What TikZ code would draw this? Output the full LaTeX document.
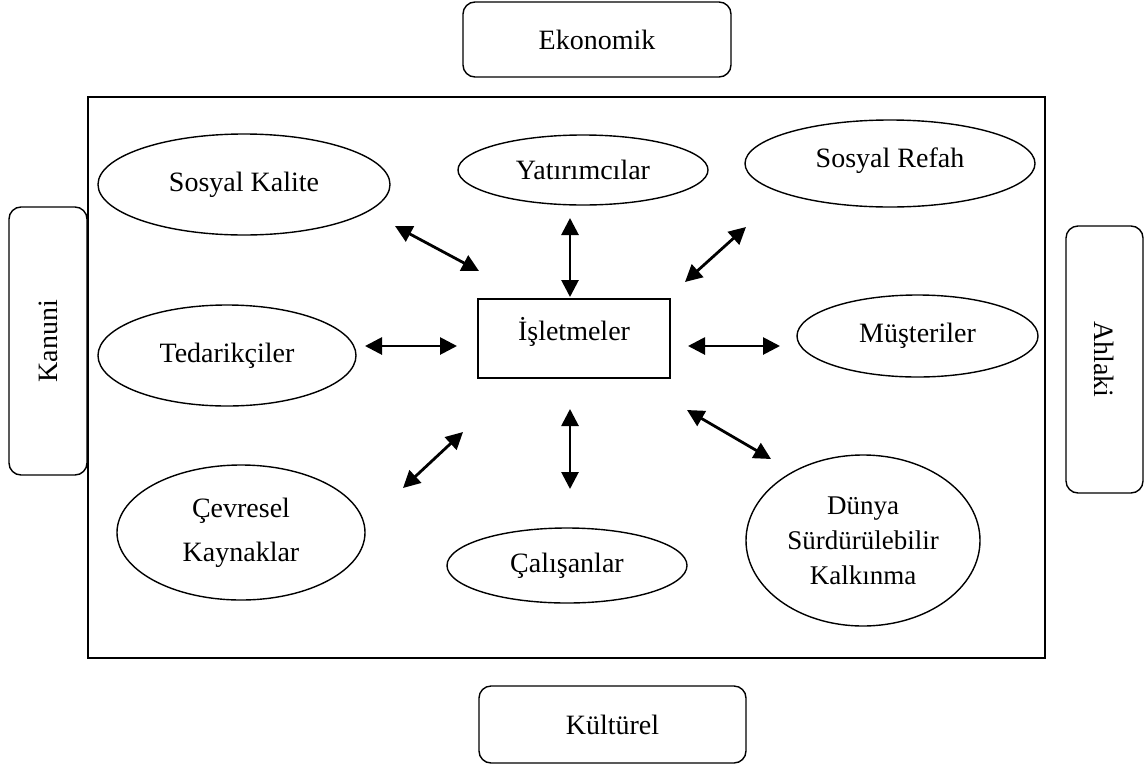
\documentclass[tikz,border=0pt]{standalone}
\usepackage{fontspec}
\setmainfont{Liberation Serif}
\usetikzlibrary{shapes.geometric,arrows.meta}
\begin{document}
\begin{tikzpicture}[x=1pt,y=-1pt,
  txt/.style={font=\fontsize{28}{44}\selectfont},
  dim/.style={draw=black,line width=1.4pt,rounded corners=12pt,txt},
  oval/.style={draw=black,line width=1.4pt,ellipse,inner sep=0pt,txt,align=center},
  twoway/.style={line width=2.8pt,{Triangle[length=17pt,width=17pt]}-{Triangle[length=17pt,width=17pt]}}
]
\useasboundingbox (0,0) rectangle (1145,766);
% outer frame
\draw[line width=1.4pt] (88,97) rectangle (1045,658);
% dimension boxes
\node[dim,minimum width=268pt,minimum height=75pt] (eko) at (597,39.5) {Ekonomik};
\node[dim,minimum width=267pt,minimum height=77pt] (kul) at (612.5,724.5) {Kültürel};
\node[dim,minimum width=268pt,minimum height=78pt,rotate=90] (kan) at (48,341) {Kanuni};
\node[dim,minimum width=267pt,minimum height=77pt,rotate=-90] (ahl) at (1104.5,359.5) {Ahlaki};
% centre
\node[draw=black,line width=1.4pt,minimum width=192pt,minimum height=79pt] (isl) at (574,338.5) {};
\node[txt] (islt) at (574,332) {İşletmeler};
% stakeholders
\node[oval,minimum width=292pt,minimum height=101pt] (sk) at (244,184.5) {Sosyal Kalite};
\node[oval,minimum width=250pt,minimum height=70pt] (yat) at (583,170) {Yatırımcılar};
\node[oval,minimum width=290pt,minimum height=87pt] (sr) at (890,163.5) {};
\node[txt] (srt) at (890,161) {Sosyal Refah};
\node[oval,minimum width=258pt,minimum height=101pt] (ted) at (227,355.5) {Tedarikçiler};
\node[oval,minimum width=241pt,minimum height=82pt] (mus) at (917.5,336) {Müşteriler};
\node[oval,minimum width=248pt,minimum height=135pt] (cev) at (241,532.5) {Çevresel\\Kaynaklar};
\node[oval,minimum width=240pt,minimum height=75pt] (cal) at (567,565.5) {Çalışanlar};
\node[oval,minimum width=234pt,minimum height=171pt,font=\fontsize{27}{35}\selectfont] (dun) at (863,540.5) {Dünya\\Sürdürülebilir\\Kalkınma};
% arrow end points
\coordinate (a1) at (395,226); \coordinate (b1) at (479,271);
\coordinate (a2) at (570,218); \coordinate (b2) at (570,297);
\coordinate (a3) at (746,227); \coordinate (b3) at (685,282);
\coordinate (a4) at (365,346); \coordinate (b4) at (457,346);
\coordinate (a5) at (688,346); \coordinate (b5) at (780,346);
\coordinate (a6) at (463,432); \coordinate (b6) at (403,488);
\coordinate (a7) at (570,409); \coordinate (b7) at (570,489);
\coordinate (a8) at (687,410); \coordinate (b8) at (771,459);
\foreach \i in {1,...,8} {\draw[twoway] (a\i) -- (b\i);}
\end{tikzpicture}
\end{document}
